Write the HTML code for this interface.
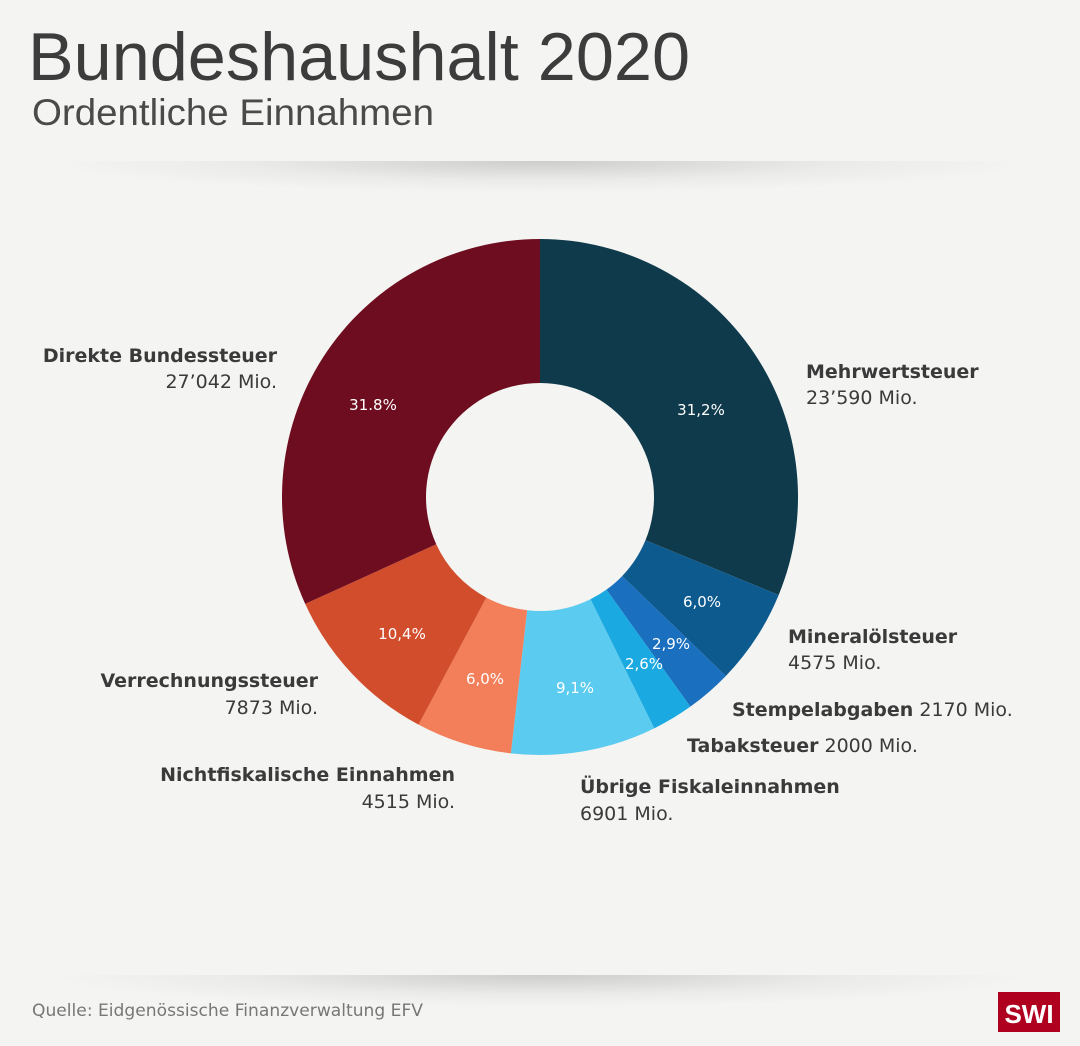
<!DOCTYPE html>
<html><head><meta charset="utf-8"><style>
html,body{margin:0;padding:0;background:#f4f4f2;}
body{width:1080px;height:1046px;position:relative;overflow:hidden;font-family:"Liberation Sans",sans-serif;}
.sh{position:absolute;left:45px;width:990px;height:32px;background:radial-gradient(ellipse 50% 100% at 50% 0%,rgba(0,0,0,0.16),rgba(0,0,0,0.04) 60%,rgba(0,0,0,0) 100%);}
</style></head><body>
<div class="sh" style="top:161px"></div>
<div class="sh" style="top:975px"></div>
<svg id="s" width="1080" height="1046" style="position:absolute;left:0;top:0">
<text x="28" y="80" font-size="68" fill="#3c3c3c" textLength="662" lengthAdjust="spacingAndGlyphs">Bundeshaushalt 2020</text>
<text x="32" y="125" font-size="37" fill="#4a4a4a" textLength="402" lengthAdjust="spacingAndGlyphs">Ordentliche Einnahmen</text>
<g id="pie"></g>
<g font-size="19" fill="#3a3a3a" font-family="DejaVu Sans, sans-serif">
<text x="277" y="362" text-anchor="end" font-weight="bold">Direkte Bundessteuer</text>
<text x="277" y="388" text-anchor="end">27’042 Mio.</text>
<text x="806" y="378" font-weight="bold">Mehrwertsteuer</text>
<text x="806" y="404">23’590 Mio.</text>
<text x="788" y="643" font-weight="bold">Mineralölsteuer</text>
<text x="788" y="669">4575 Mio.</text>
<text x="732" y="716"><tspan font-weight="bold">Stempelabgaben</tspan> 2170 Mio.</text>
<text x="687" y="752"><tspan font-weight="bold">Tabaksteuer</tspan> 2000 Mio.</text>
<text x="580" y="793" font-weight="bold">Übrige Fiskaleinnahmen</text>
<text x="580" y="820">6901 Mio.</text>
<text x="455" y="781" text-anchor="end" font-weight="bold">Nichtfiskalische Einnahmen</text>
<text x="455" y="808" text-anchor="end">4515 Mio.</text>
<text x="318" y="687" text-anchor="end" font-weight="bold">Verrechnungssteuer</text>
<text x="318" y="714" text-anchor="end">7873 Mio.</text>
</g>
<g font-size="15" fill="#fff" text-anchor="middle" font-family="DejaVu Sans, sans-serif">
<text x="373" y="410">31.8%</text>
<text x="701" y="415">31,2%</text>
<text x="702" y="607">6,0%</text>
<text x="671" y="649">2,9%</text>
<text x="644" y="669">2,6%</text>
<text x="575" y="693">9,1%</text>
<text x="485" y="684">6,0%</text>
<text x="402" y="639">10,4%</text>
</g>
<text x="32" y="1016" font-size="17" fill="#777" font-family="DejaVu Sans, sans-serif" textLength="391" lengthAdjust="spacingAndGlyphs">Quelle: Eidgenössische Finanzverwaltung EFV</text>
<rect x="998" y="992" width="62" height="40" fill="#b0001f"/>
<text x="1029" y="1023" font-size="26" font-weight="bold" fill="#fff" text-anchor="middle">SWI</text>
</svg>
<script>
var d=[[31.2,"#0f3a4b"],[6.0,"#0d5a8f"],[2.9,"#1a6fbf"],[2.6,"#1ba9e1"],[9.1,"#5bcbef"],[6.0,"#f27e5a"],[10.4,"#d14d2c"],[31.8,"#6e0d1f"]];
var cx=540,cy=497,R=258,r=114,a=0,h="";
function p(rad,ang){return [cx+rad*Math.sin(ang),cy-rad*Math.cos(ang)];}
d.forEach(function(s){var a2=a+s[0]/100*2*Math.PI;var L=(a2-a)>Math.PI?1:0;
var p1=p(R,a),p2=p(R,a2),p3=p(r,a2),p4=p(r,a);
h+='<path fill="'+s[1]+'" d="M'+p1+' A'+R+' '+R+' 0 '+L+' 1 '+p2+' L'+p3+' A'+r+' '+r+' 0 '+L+' 0 '+p4+'Z"/>';a=a2;});
document.getElementById("pie").innerHTML=h;
</script>
</body></html>
